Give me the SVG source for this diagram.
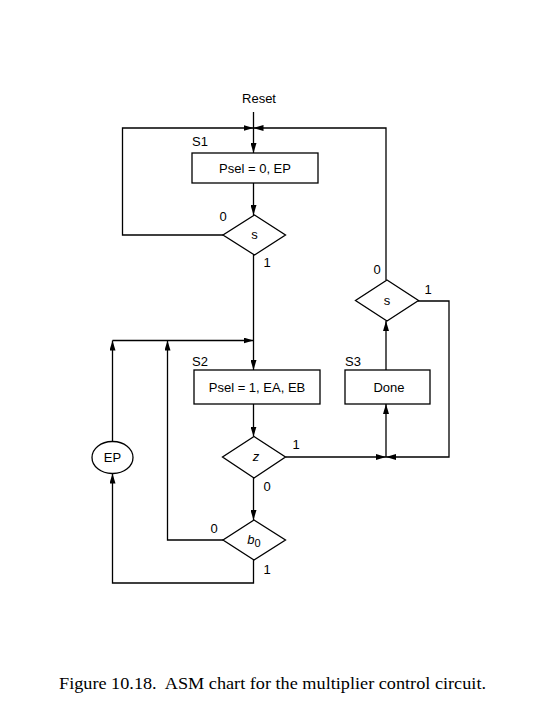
<svg xmlns="http://www.w3.org/2000/svg" width="540" height="720" viewBox="0 0 540 720">
<style>
.ln{fill:none;stroke:#000;stroke-width:1.3}
.bx{fill:#fff;stroke:#000;stroke-width:1.3}
.t{font-family:"Liberation Sans",Arial,sans-serif;font-size:13px;fill:#000}
.c{text-anchor:middle}
.cap{font-family:"Liberation Serif","Times New Roman",serif;font-size:17px;fill:#000;white-space:pre}
</style>
<defs>
<marker id="ah" viewBox="0 0 10 6" refX="10" refY="3" markerWidth="10" markerHeight="6" markerUnits="userSpaceOnUse" orient="auto">
<path d="M0,0 L10,3 L0,6 Z" fill="#000"/>
</marker>
</defs>
<rect width="540" height="720" fill="#fff"/>
<g id="connectors">
<path class="ln" d="M253.5,112 V153" marker-end="url(#ah)"/>
<path class="ln" d="M223,235 H122.5 V128 H253.5" marker-end="url(#ah)"/>
<path class="ln" d="M386,280 V128 H253.5" marker-end="url(#ah)"/>
<path class="ln" d="M253.5,183 V215" marker-end="url(#ah)"/>
<path class="ln" d="M253.5,255 V370" marker-end="url(#ah)"/>
<path class="ln" d="M253.5,404 V436.5" marker-end="url(#ah)"/>
<path class="ln" d="M253.5,478 V520" marker-end="url(#ah)"/>
<path class="ln" d="M285.5,457 H386" marker-end="url(#ah)"/>
<path class="ln" d="M418,301 H449 V457 H386" marker-end="url(#ah)"/>
<path class="ln" d="M386,457 V404" marker-end="url(#ah)"/>
<path class="ln" d="M386,370 V321" marker-end="url(#ah)"/>
<path class="ln" d="M253.5,560 V583 H112.5 V473.5" marker-end="url(#ah)"/>
<path class="ln" d="M112.5,441.5 V340.5" marker-end="url(#ah)"/>
<path class="ln" d="M223,540 H167.5 V340.5" marker-end="url(#ah)"/>
<path class="ln" d="M112.5,340.5 H253.5" stroke-width="2" marker-end="url(#ah)"/>
</g>
<text class="t c" x="259" y="103">Reset</text>
<g id="S1">
<text class="t" x="192" y="146">S1</text>
<rect class="bx" x="192" y="153" width="126" height="30"/>
<text class="t c" x="255" y="172.5">Psel = 0, EP</text>
</g>
<g id="dS1">
<path class="bx" d="M254.5,215 L285.5,235 L254.5,255 L223,235 Z"/>
<text class="t c" x="254.5" y="239" font-size="11">s</text>
<text class="t c" x="223" y="221">0</text>
<text class="t c" x="267" y="267">1</text>
</g>
<g id="dS3">
<path class="bx" d="M387,280 L418.5,300.5 L387,321 L355.5,300.5 Z"/>
<text class="t c" x="387" y="304.5" font-size="11">s</text>
<text class="t c" x="377" y="274">0</text>
<text class="t c" x="428" y="294">1</text>
</g>
<g id="S2">
<text class="t" x="192" y="366">S2</text>
<rect class="bx" x="194" y="370" width="126" height="34"/>
<text class="t c" x="257" y="391.5">Psel = 1, EA, EB</text>
</g>
<g id="S3">
<text class="t" x="345" y="366">S3</text>
<rect class="bx" x="345" y="370" width="85" height="34"/>
<text class="t c" x="389" y="391.5">Done</text>
</g>
<g id="dz">
<path class="bx" d="M254,436.5 L285.5,457 L254,478 L222.5,457 Z"/>
<text class="t c" x="256" y="461" font-style="italic" font-size="11">z</text>
<text class="t c" x="296" y="449">1</text>
<text class="t c" x="267" y="491">0</text>
</g>
<g id="db0">
<path class="bx" d="M254,520 L285.5,540 L254,560 L223,540 Z"/>
<text class="t c" x="254" y="544" font-style="italic" font-size="12">b<tspan font-style="normal" font-size="11" dy="3">0</tspan></text>
<text class="t c" x="214" y="533">0</text>
<text class="t c" x="267" y="574">1</text>
</g>
<g id="EP">
<rect class="bx" x="92" y="441.5" width="41" height="32" rx="20" ry="16"/>
<text class="t c" x="112.5" y="462">EP</text>
</g>
<text class="cap" x="59" y="689" textLength="427" lengthAdjust="spacingAndGlyphs" xml:space="preserve">Figure 10.18.  ASM chart for the multiplier control circuit.</text>
</svg>
